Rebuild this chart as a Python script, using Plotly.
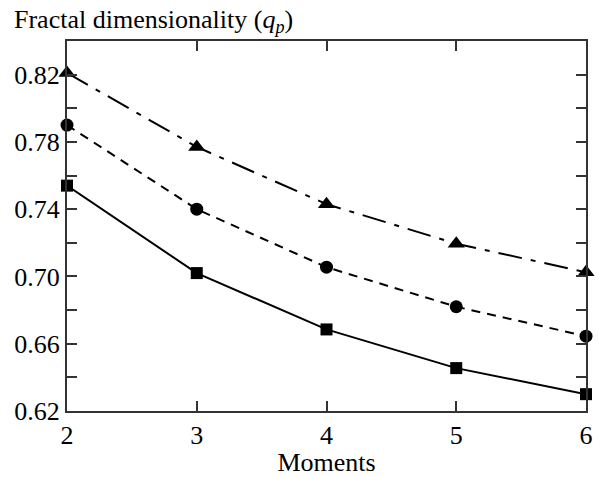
import plotly.graph_objects as go

moments = [2, 3, 4, 5, 6]
tri_vals = [0.821, 0.777, 0.743, 0.7195, 0.7025]
circ_vals = [0.790, 0.740, 0.7055, 0.682, 0.6645]
sq_vals = [0.754, 0.702, 0.6685, 0.6455, 0.630]

y_tickvals = [0.62, 0.66, 0.70, 0.74, 0.78, 0.82]
y_ticktext = ["0.62", "0.66", "0.70", "0.74", "0.78", "0.82"]
x_tickvals = [2, 3, 4, 5, 6]

FONT = "Liberation Serif, Times New Roman, serif"
FS = 26

fig = go.Figure()
fig.add_trace(go.Scatter(
    x=moments, y=tri_vals, mode="lines+markers",
    line=dict(color="black", width=2, dash="24px,9px,5px,9px"),
    marker=dict(symbol="triangle-up", size=15, color="black"),
    cliponaxis=False, showlegend=False))
fig.add_trace(go.Scatter(
    x=moments, y=circ_vals, mode="lines+markers",
    line=dict(color="black", width=2, dash="9px,7px"),
    marker=dict(symbol="circle", size=13, color="black"),
    cliponaxis=False, showlegend=False))
fig.add_trace(go.Scatter(
    x=moments, y=sq_vals, mode="lines+markers",
    line=dict(color="black", width=2),
    marker=dict(symbol="square", size=12, color="black"),
    cliponaxis=False, showlegend=False))

fig.update_layout(
    width=599, height=477,
    margin=dict(l=67, r=13, t=41, b=66, autoexpand=False),
    paper_bgcolor="white", plot_bgcolor="white",
    font=dict(family=FONT, size=FS, color="black"),
    xaxis=dict(range=[2, 6], tickvals=x_tickvals, ticks="inside", ticklen=10,
               tickwidth=2, tickcolor="#333", showline=True, linewidth=2,
               linecolor="#333", mirror="ticks", showgrid=False, zeroline=False,
               title=dict(text="Moments", standoff=8, font=dict(family=FONT, size=FS)),
               tickfont=dict(family=FONT, size=FS)),
    yaxis=dict(range=[0.62, 0.84], tickvals=y_tickvals, ticktext=y_ticktext,
               ticks="inside", ticklen=10, tickwidth=2, tickcolor="#333",
               showline=True, linewidth=2, linecolor="#333", mirror="ticks",
               showgrid=False, zeroline=False,
               minor=dict(dtick=0.02, tick0=0.62, ticks="inside", ticklen=10,
                          tickwidth=2, tickcolor="#333", showgrid=False),
               tickfont=dict(family=FONT, size=FS)),
    annotations=[dict(text="Fractal dimensionality (<i>q</i><sub><i>p</i></sub>)",
                      xref="paper", yref="paper", x=-55/519, y=1.0,
                      xanchor="left", yanchor="bottom", yshift=2,
                      showarrow=False, font=dict(family=FONT, size=FS))],
)

fig.write_html("out.html")
